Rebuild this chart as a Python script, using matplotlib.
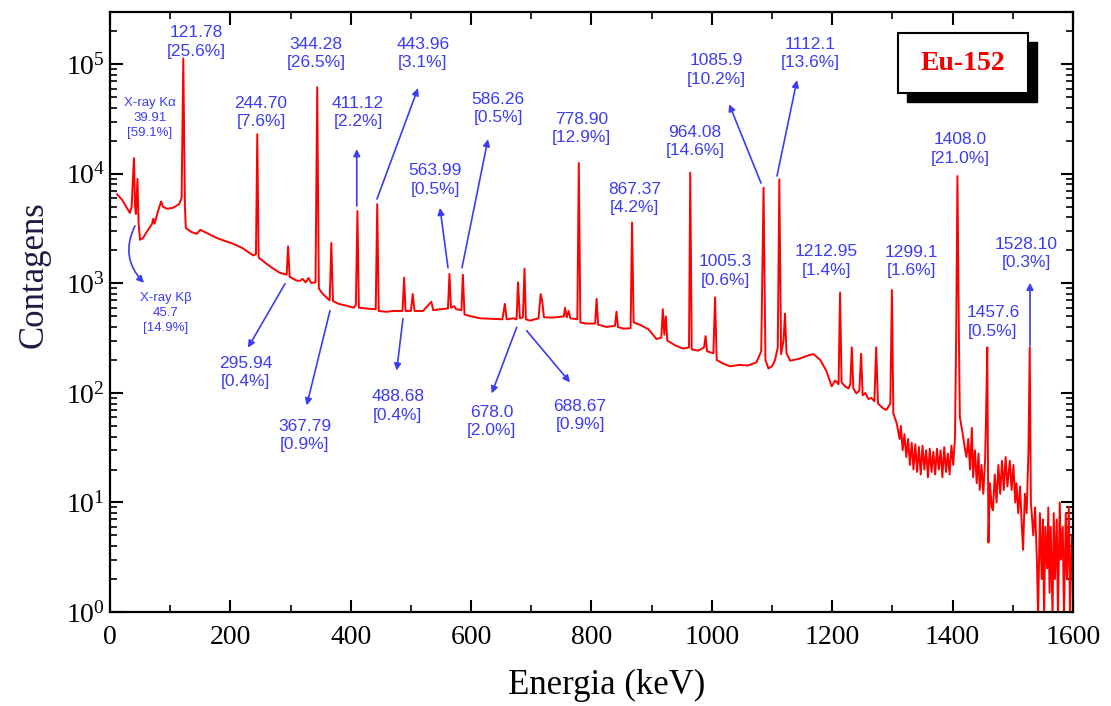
import numpy as np
import matplotlib
matplotlib.use('Agg')
from matplotlib import pyplot as plt
from matplotlib.patches import Rectangle
from matplotlib.ticker import MultipleLocator

plt.rcParams['font.family'] = ['Liberation Serif', 'DejaVu Serif']
plt.rcParams['mathtext.fontset'] = 'stix'

# Espectro: (energia em keV, contagens)
espectro = [
    (12, 6500), (20, 5800), (28, 4900), (33, 4400), (36, 5000), (38, 9000),
    (39.9, 13900), (41.5, 5200), (43, 4300), (45.7, 9000), (47.5, 3500),
    (50, 2500), (55, 2600), (62, 3000), (70, 3500), (72, 3900), (74, 3500),
    (80, 4600), (85, 5600), (88, 5000), (95, 4800), (105, 4900), (115, 5300),
    (119, 6000), (121.8, 113000), (124.5, 5000), (126, 3200), (135, 2950),
    (144, 2830), (150, 3080), (160, 2900), (177, 2600), (190, 2450),
    (205, 2295), (220, 2100), (238, 1800), (242.5, 1850), (244.7, 23000),
    (247, 1720), (260, 1510), (270, 1380), (282, 1250), (293.5, 1200),
    (295.9, 2180), (298.5, 1150), (310, 1060), (316, 1056), (320, 1100),
    (325, 1020), (330, 1120), (334, 1010), (341.5, 1020), (344.3, 61800),
    (347, 900), (352, 820), (360, 740), (365, 700), (367.8, 2340),
    (370.5, 690), (380, 650), (393, 625), (405, 600), (408.5, 640),
    (411.1, 4580), (413.5, 600), (426, 590), (441.5, 580), (444, 5300),
    (446.5, 560), (460, 550), (470, 560), (486, 560), (488.7, 1130),
    (491, 560), (500, 560), (503, 800), (506, 560), (520, 560), (534, 680),
    (537, 570), (548, 580), (561.5, 590), (564, 1220), (566.5, 600),
    (572, 620), (575, 580), (584, 570), (586.3, 1200), (589, 520),
    (600, 500), (615, 480), (631, 476), (652, 470), (656, 650), (659, 470),
    (670, 480), (675.5, 470), (678, 1020), (681, 480), (686, 490),
    (688.7, 1360), (691, 470), (698, 457), (712, 480), (715.5, 800),
    (718, 700), (721, 490), (736, 487), (754, 500), (756, 600), (759, 490),
    (762, 560), (765, 480), (776.5, 470), (778.9, 12540), (781.5, 440),
    (790, 430), (806, 430), (808.5, 724), (811, 420), (825, 400), (839, 410),
    (841.5, 552), (844, 400), (853, 386), (865, 390), (867.4, 3590),
    (870, 440), (880, 420), (895, 380), (908, 310), (916, 320), (918.5, 580),
    (921, 340), (923.5, 500), (926, 300), (940, 270), (952, 254), (962, 260),
    (964.1, 10230), (966.5, 250), (977, 243), (987, 260), (989.5, 330),
    (992, 240), (1002.5, 230), (1005.3, 744), (1008, 200), (1019, 185),
    (1030, 175), (1045, 180), (1060, 178), (1074, 190), (1082, 240),
    (1085.9, 7470), (1089, 200), (1094, 167), (1100, 175), (1105, 200),
    (1109.5, 260), (1112.1, 8910), (1115, 226), (1119, 300), (1121.5, 530),
    (1124, 230), (1130, 197), (1145, 205), (1160, 220), (1169, 226),
    (1180, 200), (1190, 160), (1199, 115), (1205, 130), (1210.5, 120),
    (1213, 826), (1215.5, 125), (1221, 115), (1227, 110), (1230, 120),
    (1232.5, 261), (1235, 110), (1240, 99), (1245, 105), (1248, 228),
    (1250.5, 95), (1255, 100), (1260, 88), (1265, 90), (1270, 84),
    (1273, 261), (1276, 80), (1285, 72), (1290, 70), (1296.5, 80),
    (1299.1, 869), (1301.5, 65), (1307, 53), (1312, 38), (1314, 50),
    (1317, 30), (1320, 42), (1323, 26), (1326, 38), (1329, 22), (1332, 35),
    (1335, 20), (1338, 34), (1341, 19), (1344, 32), (1347, 18), (1350, 33),
    (1353, 20), (1356, 30), (1359, 17), (1362, 31), (1365, 19), (1368, 29),
    (1371, 18), (1374, 31), (1377, 20), (1380, 30), (1383, 17), (1386, 32),
    (1389, 19), (1392, 28), (1395, 18), (1398, 33), (1401, 22), (1404, 40),
    (1406, 400), (1408, 9550), (1410.5, 300), (1412, 60), (1416, 45),
    (1420, 32), (1423, 26), (1426, 38), (1429, 20), (1432, 48), (1434, 17),
    (1437, 30), (1440, 15), (1443, 28), (1445, 13), (1448, 22), (1451, 12),
    (1454, 25), (1455.5, 60), (1457.6, 261), (1459.5, 4.3), (1462, 15),
    (1465, 9), (1467, 8.5), (1470, 18), (1473, 10), (1476, 22), (1479, 12),
    (1482, 24), (1485, 13), (1488, 26), (1491, 14), (1495, 24), (1498, 13),
    (1501, 22), (1504, 10), (1506, 15), (1509, 8), (1512, 14), (1515, 6),
    (1517, 3.7), (1520, 12), (1523, 8), (1526, 30), (1528.1, 261),
    (1530, 10), (1531, 8.5), (1534, 5), (1537, 9), (1540, 3), (1542, 0.9),
    (1545, 8), (1548, 2), (1550, 7), (1552, 0.9), (1554, 6), (1557, 2.5),
    (1559, 9), (1561, 1.5), (1563, 6), (1566, 0.9), (1568, 8), (1570, 2),
    (1573, 7), (1575, 0.9), (1578, 10), (1580, 3), (1583, 6), (1585, 0.9),
    (1588, 8), (1590, 2), (1593, 9), (1595, 0.9), (1598, 5), (1600, 3),
]
energia = [p[0] for p in espectro]
contagens = [p[1] for p in espectro]

# Rotulos dos picos e posicao do texto (keV, contagens)
rotulos = ['121.78\n[25.6%]', '244.70\n[7.6%]', '344.28\n[26.5%]', '411.12\n[2.2%]',
           '443.96\n[3.1%]', '563.99\n[0.5%]', '586.26\n[0.5%]', '778.90\n[12.9%]',
           '867.37\n[4.2%]', '964.08\n[14.6%]', '1085.9\n[10.2%]', '1112.1\n[13.6%]',
           '1005.3\n[0.6%]', '1212.95\n[1.4%]', '1299.1\n[1.6%]', '1408.0\n[21.0%]',
           '1528.10\n[0.3%]', '1457.6\n[0.5%]', '295.94\n[0.4%]', '367.79\n[0.9%]',
           '488.68\n[0.4%]', '678.0\n[2.0%]', '688.67\n[0.9%]']
texto_E = [143, 251, 342, 412, 520, 540, 645, 783, 872, 972, 1008, 1163,
           1022, 1190, 1332, 1412, 1522, 1467, 225, 324, 478, 634, 781]
texto_C = [159000, 36200, 125000, 36200, 125000, 8790, 39400, 25900, 5960,
           19700, 88100, 125000, 1303, 1607, 1589, 16900, 1880, 442, 154,
           41, 76, 55, 62]

# Raios X
raiox = ['X-ray K\u03b1\n39.91\n[59.1%]', 'X-ray K\u03b2\n45.7\n[14.9%]']
raiox_E = [66.5, 93]
raiox_C = [32200, 540]

# Setas: (E origem, C origem, E ponta, C ponta)
setas = [
    (410, 5090, 410, 16800),
    (443.6, 5890, 511.7, 60400),
    (561.6, 1387, 548.3, 4885),
    (584.8, 1387, 628, 20700),
    (1081.6, 8240, 1028.7, 43200),
    (1108.2, 9550, 1141.4, 71500),
    (1528.6, 270, 1528.6, 1012),
    (290.8, 992, 229.3, 259),
    (365.5, 563, 326.8, 77),
    (486.8, 476, 476.3, 160),
    (675.7, 397, 634.2, 99),
    (692.3, 370, 764.3, 125),
]
seta_kb = (41.5, 3350, 56.5, 1012)

azul = '#3c3cf0'
fonte_azul = ['Liberation Sans', 'DejaVu Sans']

fig = plt.figure(figsize=(11.11, 7.06), dpi=100)
ax = fig.add_axes([0.099, 0.1331, 0.8668, 0.8499])

ax.plot(energia, contagens, color='#ff0000', lw=1.4)
ax.set_yscale('log')
ax.set_xlim(0, 1600)
ax.set_ylim(1, 3e5)
ax.xaxis.set_major_locator(MultipleLocator(200))
ax.xaxis.set_minor_locator(MultipleLocator(100))
ax.tick_params(which='both', direction='in', top=True, right=True, labelsize=20)
ax.tick_params(which='major', length=9, width=1.5)
ax.tick_params(which='minor', length=5, width=1.2)
ax.tick_params(axis='x', pad=9)
for s in ax.spines.values():
    s.set_linewidth(1.6)

ax.set_xlabel('Energia (keV)', fontsize=25)
ax.set_ylabel('Contagens', fontsize=25, color='#1c1c44')
ax.xaxis.set_label_coords(0.516, -0.095)
ax.yaxis.set_label_coords(-0.062, 0.562)

for t, e, c in zip(rotulos, texto_E, texto_C):
    ax.text(e, c, t, color=azul, fontsize=12.5, family=fonte_azul,
            ha='center', va='center', linespacing=1.3)
for t, e, c in zip(raiox, raiox_E, raiox_C):
    ax.text(e, c, t, color=azul, fontsize=9.5, family=fonte_azul,
            ha='center', va='center', linespacing=1.35)

for e0, c0, e1, c1 in setas:
    ax.annotate('', xy=(e1, c1), xytext=(e0, c0),
                arrowprops=dict(arrowstyle='-|>', color=azul, lw=1.2,
                                mutation_scale=10, shrinkA=0, shrinkB=0))
ax.annotate('', xy=seta_kb[2:], xytext=seta_kb[:2],
            arrowprops=dict(arrowstyle='-|>', color=azul, lw=1.2,
                            mutation_scale=10, shrinkA=0, shrinkB=0,
                            connectionstyle='arc3,rad=0.35'))

# Caixa Eu-152 com sombra
ax.add_patch(Rectangle((0.828, 0.85), 0.135, 0.10, transform=ax.transAxes,
                       facecolor='black', edgecolor='black', zorder=5))
ax.add_patch(Rectangle((0.818, 0.865), 0.135, 0.10, transform=ax.transAxes,
                       facecolor='white', edgecolor='black', lw=1.5, zorder=6))
ax.text(0.8855, 0.915, 'Eu-152', transform=ax.transAxes, color='#ee0000',
        fontsize=20, fontweight='bold', ha='center', va='center', zorder=7)

fig.savefig('out.png', dpi=100)
